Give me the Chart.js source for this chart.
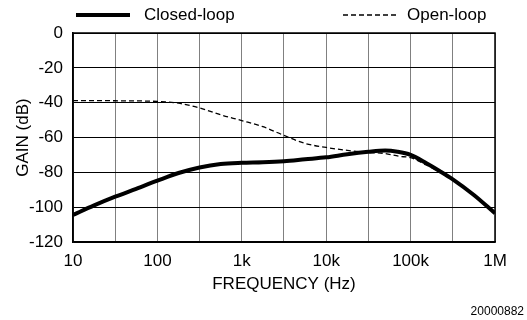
<!DOCTYPE html>
<html>
<head>
<meta charset="utf-8">
<script src="https://cdn.jsdelivr.net/npm/chart.js@4.4.1/dist/chart.umd.min.js"></script>
<style>
html,body{margin:0;padding:0;background:#fff;}
canvas{display:block;}
</style>
</head>
<body>
<canvas id="c" width="527" height="320"></canvas>
<script>
// ---- data ----
const closedFreq = [10, 17.8, 31.6, 56, 100, 178, 316, 562, 1000, 1780, 3160, 5620, 10000, 17800, 31600, 50000, 70000, 100000, 154000, 220000, 316000, 562000, 1000000];
const closedGain = [-104.5, -99, -94, -89.5, -84.8, -80.4, -77.2, -75.2, -74.5, -74.2, -73.6, -72.5, -71.4, -69.6, -68.2, -67.5, -68.2, -70, -74.8, -79.2, -84, -93, -103.5];
const openFreq = [10, 31.6, 100, 178, 316, 562, 1000, 1780, 3160, 5620, 10000, 17800, 31600, 50000, 73000, 100000, 154000, 220000, 316000, 562000, 1000000];
const openGain = [-38.8, -38.9, -39.3, -40.3, -43, -47, -50.3, -53.8, -58.8, -63.4, -65.7, -67.4, -68.6, -69.2, -70.8, -71.6, -75.8, -79.6, -84.2, -93.2, -103.6];
const xTickValues = [10, 100, 1000, 10000, 100000, 1000000];
const xTickLabels = ['10', '100', '1k', '10k', '100k', '1M'];
const xGridValues = [10, 31.62, 100, 316.2, 1000, 3162, 10000, 31623, 100000, 316228, 1000000];
const seriesNames = ['Closed-loop', 'Open-loop'];
const xTitle = 'FREQUENCY (Hz)';
const yTitle = 'GAIN (dB)';
const figNote = '20000882';

const FONT = "'Liberation Sans', Arial, sans-serif";

const toPts = (xs, ys) => xs.map((x, i) => ({x: x, y: ys[i]}));

const decor = {
  id: 'decor',
  afterDraw(chart) {
    const ctx = chart.ctx;
    const a = chart.chartArea;
    ctx.save();
    // frame
    ctx.strokeStyle = '#000';
    ctx.lineWidth = 1.5;
    ctx.strokeRect(a.left, a.top, a.right - a.left, a.bottom - a.top);
    // legend
    const ds = chart.data.datasets;
    ctx.font = '17px ' + FONT;
    ctx.textBaseline = 'middle';
    ctx.fillStyle = '#000';
    const ly = 15;
    // closed-loop
    ctx.beginPath();
    ctx.strokeStyle = ds[0].borderColor;
    ctx.lineWidth = ds[0].borderWidth;
    ctx.setLineDash([]);
    ctx.moveTo(76, ly); ctx.lineTo(130, ly);
    ctx.stroke();
    ctx.textAlign = 'left';
    ctx.fillText(ds[0].label, 144, ly);
    // open-loop
    ctx.beginPath();
    ctx.strokeStyle = ds[1].borderColor;
    ctx.lineWidth = ds[1].borderWidth;
    ctx.setLineDash(ds[1].borderDash);
    ctx.moveTo(343, ly); ctx.lineTo(397, ly);
    ctx.stroke();
    ctx.setLineDash([]);
    ctx.fillText(ds[1].label, 407, ly);
    // note
    ctx.font = '12px ' + FONT;
    ctx.textAlign = 'right';
    ctx.fillText(figNote, 524, 312);
    ctx.restore();
  }
};

new Chart(document.getElementById('c'), {
  type: 'line',
  data: {
    datasets: [
      {
        label: seriesNames[0],
        data: toPts(closedFreq, closedGain),
        borderColor: '#000',
        borderWidth: 4,
        pointRadius: 0,
        cubicInterpolationMode: 'monotone',
        fill: false
      },
      {
        label: seriesNames[1],
        data: toPts(openFreq, openGain),
        borderColor: '#000',
        borderWidth: 1.3,
        borderDash: [5, 3],
        pointRadius: 0,
        cubicInterpolationMode: 'monotone',
        fill: false
      }
    ]
  },
  options: {
    responsive: false,
    animation: false,
    devicePixelRatio: 1,
    layout: {padding: {top: 33, right: 32, bottom: 0, left: 0}},
    plugins: {legend: {display: false}, tooltip: {enabled: false}},
    scales: {
      x: {
        type: 'logarithmic',
        min: 10,
        max: 1000000,
        afterBuildTicks(scale) {
          scale.ticks = xGridValues.map(v => ({value: v}));
        },
        afterFit(scale) { scale.height = 78; },
        grid: {color: '#808080', lineWidth: 1, drawTicks: false},
        border: {color: '#000', width: 1.5},
        ticks: {
          autoSkip: false,
          maxRotation: 0,
          padding: 9,
          color: '#000',
          font: {family: FONT, size: 17},
          callback(value) {
            const i = xTickValues.findIndex(t => Math.abs(t - value) / t < 1e-6);
            return i >= 0 ? xTickLabels[i] : '';
          }
        },
        title: {
          display: true,
          text: xTitle,
          color: '#000',
          font: {family: FONT, size: 17},
          padding: {top: 0, bottom: 25}
        }
      },
      y: {
        min: -120,
        max: 0,
        afterFit(scale) { scale.width = 73; },
        grid: {color: '#000', lineWidth: 1, drawTicks: false},
        border: {color: '#000', width: 1.5},
        ticks: {
          stepSize: 20,
          padding: 10,
          color: '#000',
          font: {family: FONT, size: 17}
        },
        title: {
          display: true,
          text: yTitle,
          color: '#000',
          font: {family: FONT, size: 17},
          padding: {top: 13, bottom: 0}
        }
      }
    }
  },
  plugins: [decor]
});
</script>
</body>
</html>
